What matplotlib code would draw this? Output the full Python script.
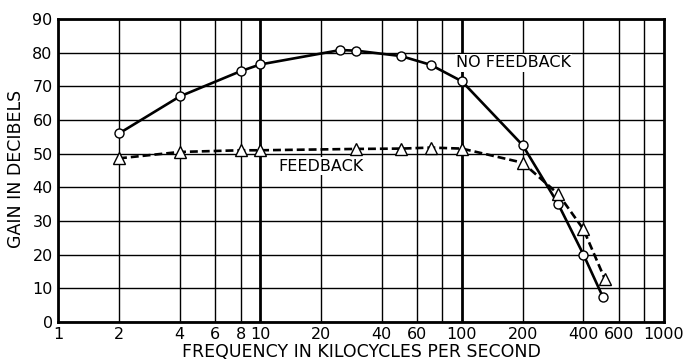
import numpy as np
import matplotlib.pyplot as plt

# frequency in kc/s
freq_nofb = [2, 4, 8, 10, 25, 30, 50, 70, 100, 200, 300, 400, 500]
gain_nofb = [56, 67, 74.5, 76.5, 80.8, 80.6, 79, 76.4, 71.5, 52.5, 35, 20, 7.3]

freq_fb = [2, 4, 8, 10, 30, 50, 70, 100, 200, 300, 400, 510]
gain_fb = [48.6, 50.5, 51, 51, 51.4, 51.5, 51.8, 51.5, 47.3, 38, 27.5, 12.8]

xticks = [1, 2, 4, 6, 8, 10, 20, 40, 60, 100, 200, 400, 600, 1000]
xgrid = [1, 2, 4, 6, 8, 10, 20, 40, 60, 80, 100, 200, 400, 600, 800, 1000]
yticks = [0, 10, 20, 30, 40, 50, 60, 70, 80, 90]

plt.rcParams['font.family'] = 'DejaVu Sans'

fig = plt.figure(figsize=(6.85, 3.6), dpi=100)
ax = fig.add_axes([0.085, 0.106, 0.884, 0.841])
ax.set_xscale('log')
ax.set_xlim(1, 1000)
ax.set_ylim(0, 90)

for x in xgrid:
    w = 2.0 if x in (10, 100) else 1.0
    ax.axvline(x, color='black', lw=w, zorder=1)
for y in yticks:
    ax.axhline(y, color='black', lw=1.0, zorder=1)

ax.plot(freq_nofb, gain_nofb, color='black', lw=1.9, marker='o', ms=6.5,
        mfc='white', mec='black', mew=1.0, zorder=3)
ax.plot(freq_fb, gain_fb, color='black', lw=1.9, ls=(0, (3, 1.5)), marker='^',
        ms=8, mfc='white', mec='black', mew=1.0, zorder=3)

ax.text(180, 77, 'NO FEEDBACK', ha='center', va='center', fontsize=11.5,
        bbox=dict(facecolor='white', edgecolor='none', pad=1), zorder=2)
ax.text(20, 46.3, 'FEEDBACK', ha='center', va='center', fontsize=11.5,
        bbox=dict(facecolor='white', edgecolor='none', pad=1), zorder=2)

ax.set_xticks(xticks)
ax.set_xticklabels([str(t) for t in xticks], fontsize=11.5)
ax.minorticks_off()
ax.set_yticks(yticks)
ax.set_yticklabels([str(t) for t in yticks], fontsize=11.5)
ax.tick_params(length=0, pad=4)

for s in ax.spines.values():
    s.set_linewidth(2)

fig.text(0.527, 0.022, 'FREQUENCY IN KILOCYCLES PER SECOND', ha='center',
         va='center', fontsize=12.5)
fig.text(0.023, 0.53, 'GAIN IN DECIBELS', ha='center', va='center',
         rotation=90, fontsize=12.5)

fig.savefig('out.png', dpi=100)
